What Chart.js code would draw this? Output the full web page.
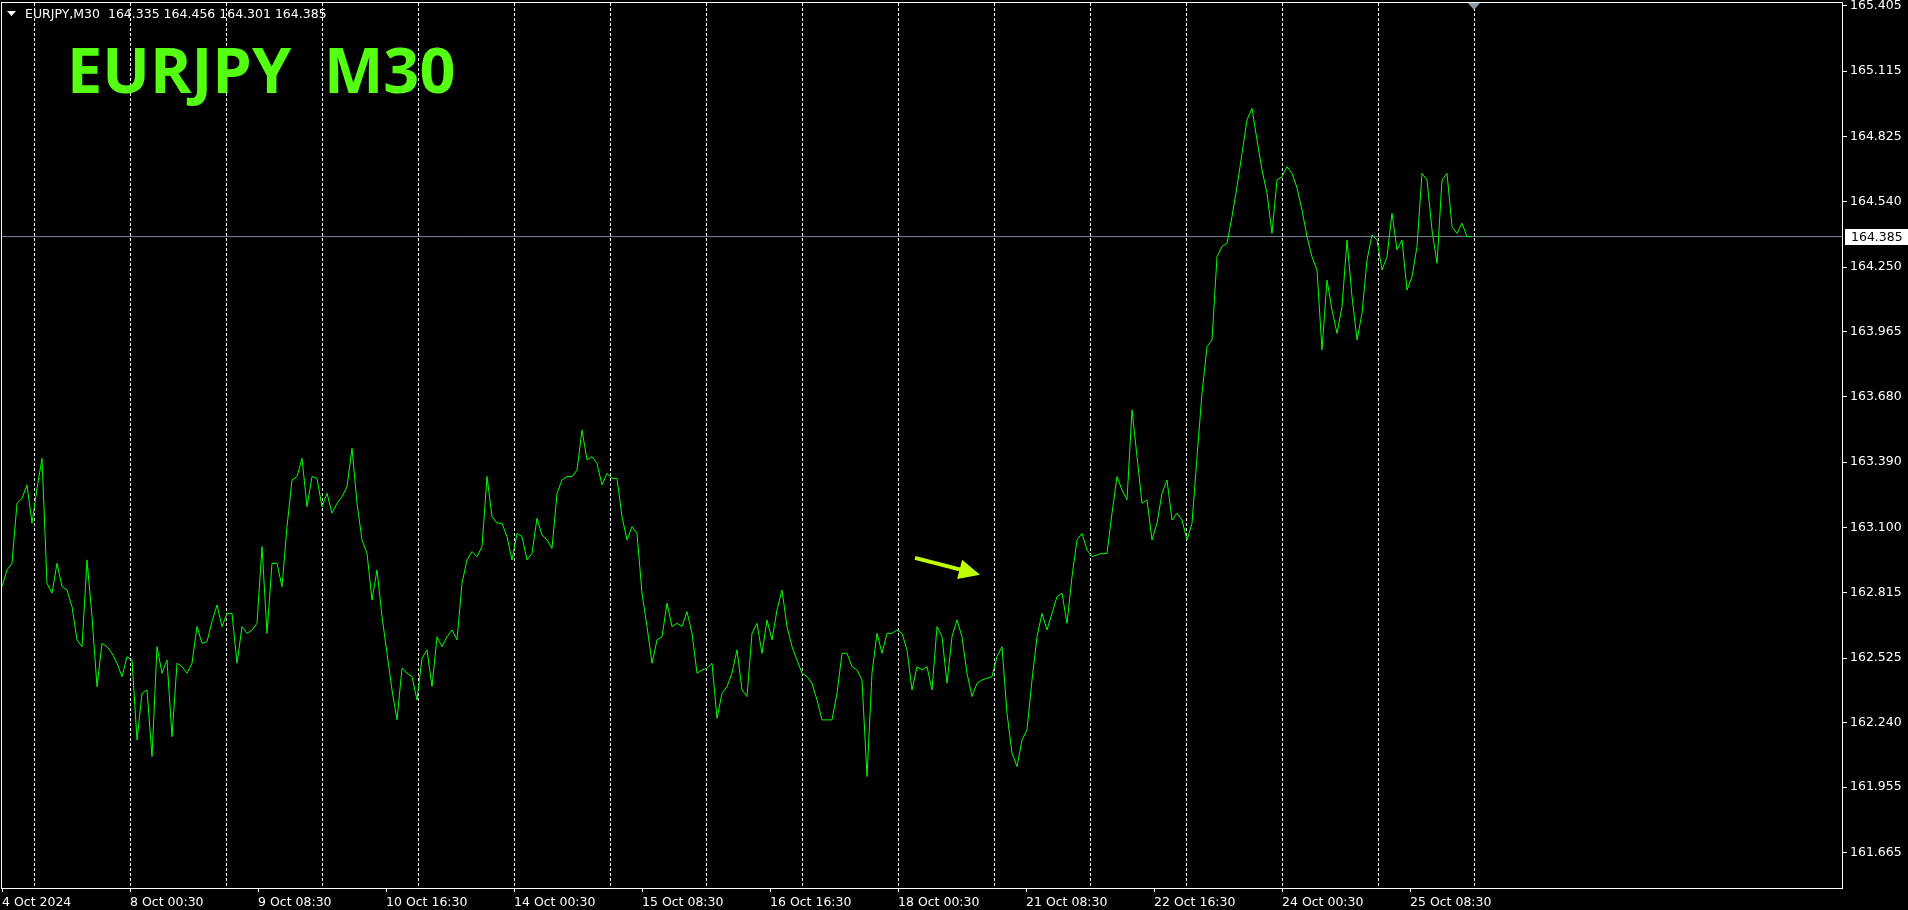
<!DOCTYPE html>
<html>
<head>
<meta charset="utf-8">
<title>EURJPY M30</title>
<script src="https://cdn.jsdelivr.net/npm/chart.js@4.4.1/dist/chart.umd.min.js"></script>
<style>
    html, body { margin: 0; padding: 0; background: #000; overflow: hidden; }
    #wrap { width: 1908px; height: 910px; }
</style>
</head>
<body>
<div id="wrap"><canvas id="priceChart" width="1908" height="910"></canvas></div>
<script>
// header / title
const symbolName = 'EURJPY,M30';
const ohlc = [164.335, 164.456, 164.301, 164.385];
const titleText = 'EURJPY  M30';
const bidPrice = 164.385;

// closes, one every 2.5 bars (M30)
const barsPerSample = 2.5;
const closes = [
    162.840, 162.914, 162.943, 163.208, 163.230, 163.289, 163.120, 163.274, 163.406, 162.855,
    162.811, 162.943, 162.840, 162.825, 162.752, 162.605, 162.575, 162.958, 162.708, 162.399,
    162.590, 162.575, 162.546, 162.502, 162.443, 162.531, 162.516, 162.163, 162.369, 162.384,
    162.090, 162.575, 162.458, 162.516, 162.178, 162.502, 162.487, 162.458, 162.502, 162.664,
    162.590, 162.597, 162.686, 162.759, 162.664, 162.722, 162.722, 162.502, 162.664, 162.634,
    162.649, 162.678, 163.017, 162.634, 162.943, 162.943, 162.840, 163.105, 163.311, 163.326,
    163.406, 163.193, 163.326, 163.318, 163.193, 163.252, 163.164, 163.208, 163.237, 163.281,
    163.451, 163.208, 163.046, 162.987, 162.781, 162.914, 162.708, 162.546, 162.384, 162.252,
    162.480, 162.458, 162.443, 162.340, 162.524, 162.561, 162.399, 162.619, 162.575, 162.619,
    162.649, 162.605, 162.855, 162.958, 162.995, 162.972, 163.017, 163.326, 163.149, 163.120,
    163.120, 163.061, 162.958, 163.075, 163.061, 162.958, 162.987, 163.142, 163.068, 163.046,
    163.009, 163.252, 163.311, 163.326, 163.326, 163.355, 163.531, 163.399, 163.414, 163.384,
    163.289, 163.340, 163.318, 163.318, 163.149, 163.046, 163.105, 163.075, 162.811, 162.664,
    162.502, 162.605, 162.619, 162.767, 162.664, 162.678, 162.664, 162.730, 162.634, 162.458,
    162.472, 162.480, 162.502, 162.259, 162.369, 162.399, 162.458, 162.561, 162.384, 162.355,
    162.634, 162.678, 162.546, 162.693, 162.605, 162.737, 162.825, 162.664, 162.575, 162.516,
    162.458, 162.443, 162.413, 162.340, 162.252, 162.252, 162.252, 162.369, 162.546, 162.546,
    162.487, 162.472, 162.428, 162.002, 162.458, 162.634, 162.546, 162.634, 162.634, 162.649,
    162.634, 162.561, 162.384, 162.487, 162.472, 162.487, 162.384, 162.664, 162.619, 162.414,
    162.619, 162.693, 162.619, 162.458, 162.355, 162.414, 162.428, 162.436, 162.443, 162.531,
    162.575, 162.281, 162.105, 162.046, 162.163, 162.208, 162.428, 162.619, 162.722, 162.649,
    162.722, 162.796, 162.811, 162.678, 162.884, 163.046, 163.075, 163.002, 162.973, 162.980,
    162.987, 162.987, 163.164, 163.326, 163.267, 163.223, 163.620, 163.414, 163.208, 163.223,
    163.046, 163.120, 163.252, 163.311, 163.134, 163.164, 163.134, 163.046, 163.120, 163.414,
    163.693, 163.899, 163.929, 164.296, 164.341, 164.355, 164.473, 164.605, 164.752, 164.900,
    164.951, 164.811, 164.679, 164.576, 164.399, 164.635, 164.649, 164.694, 164.664, 164.600,
    164.502, 164.385, 164.296, 164.238, 163.885, 164.193, 164.061, 163.958, 164.076, 164.370,
    164.120, 163.929, 164.046, 164.282, 164.392, 164.370, 164.238, 164.296, 164.488, 164.326,
    164.370, 164.149, 164.208, 164.341, 164.664, 164.635, 164.414, 164.267, 164.635, 164.664,
    164.429, 164.399, 164.444, 164.385, 164.385
];

// price scale
const priceMin = 161.510;
const priceMax = 165.416;
const yTicks = [165.405, 165.115, 164.825, 164.540, 164.250, 163.965, 163.680,
                163.390, 163.100, 162.815, 162.525, 162.240, 161.955, 161.665];

// time scale, in bars from the first bar
const barMax = 920.5;
const xLabelBars = [0, 64, 128, 192, 256, 320, 384, 448, 512, 576, 640, 704];
const xLabels = ['4 Oct 2024', '8 Oct 00:30', '9 Oct 08:30', '10 Oct 16:30', '14 Oct 00:30', '15 Oct 08:30',
                 '16 Oct 16:30', '18 Oct 00:30', '21 Oct 08:30', '22 Oct 16:30', '24 Oct 00:30', '25 Oct 08:30'];
const gridBars = [16, 64, 112, 160, 208, 256, 304, 352, 400, 448, 496, 544, 592, 640, 688, 736];
const shiftBar = 736;

// arrow annotation: [bar, price]
const arrowFrom = [456.5, 162.967];
const arrowTo = [489, 162.893];

const FONT = 'DejaVu Sans';

function noPad(s) {
    s.paddingTop = 0; s.paddingBottom = 0; s.paddingLeft = 0; s.paddingRight = 0;
}

document.addEventListener("DOMContentLoaded", function () {

    const decor = {
        id: 'decor',
        afterDatasetsDraw(chart) {
            const ctx = chart.ctx;
            const a = chart.chartArea;
            const xs = chart.scales.x;
            const ys = chart.scales.y;
            ctx.save();

            // plot frame
            ctx.strokeStyle = '#ffffff';
            ctx.lineWidth = 1;
            ctx.strokeRect(a.left - 0.5, a.top - 0.5, a.right - a.left, a.bottom - a.top + 1);

            // header line
            ctx.fillStyle = '#ffffff';
            ctx.beginPath();
            ctx.moveTo(7, 11); ctx.lineTo(16, 11); ctx.lineTo(11.5, 16);
            ctx.closePath();
            ctx.fill();
            ctx.font = '12.5px "' + FONT + '"';
            ctx.textBaseline = 'alphabetic';
            ctx.textAlign = 'left';
            ctx.fillText(symbolName + '  ' + ohlc.map(v => v.toFixed(3)).join(' '), 25, 18);

            // big title
            ctx.font = 'bold 63px "Open Sans"';
            ctx.fillStyle = '#55ff11';
            ctx.fillText(titleText, 67, 93);

            // arrow
            const x0 = xs.getPixelForValue(arrowFrom[0]), y0 = ys.getPixelForValue(arrowFrom[1]);
            const x1 = xs.getPixelForValue(arrowTo[0]), y1 = ys.getPixelForValue(arrowTo[1]);
            const ang = Math.atan2(y1 - y0, x1 - x0);
            const headLen = 21, headHalf = 10;
            const bx = x1 - headLen * Math.cos(ang), by = y1 - headLen * Math.sin(ang);
            ctx.strokeStyle = '#bfff00';
            ctx.fillStyle = '#bfff00';
            ctx.lineWidth = 4;
            ctx.beginPath();
            ctx.moveTo(x0, y0); ctx.lineTo(bx + 2 * Math.cos(ang), by + 2 * Math.sin(ang));
            ctx.stroke();
            ctx.beginPath();
            ctx.moveTo(x1, y1);
            ctx.lineTo(bx + headHalf * Math.sin(ang), by - headHalf * Math.cos(ang));
            ctx.lineTo(bx - headHalf * Math.sin(ang), by + headHalf * Math.cos(ang));
            ctx.closePath();
            ctx.fill();

            // chart shift marker
            const sx = xs.getPixelForValue(shiftBar);
            ctx.fillStyle = '#8899aa';
            ctx.beginPath();
            ctx.moveTo(sx - 6, a.top); ctx.lineTo(sx + 6, a.top); ctx.lineTo(sx, a.top + 7);
            ctx.closePath();
            ctx.fill();

            // bid price box
            const py = Math.round(ys.getPixelForValue(bidPrice));
            ctx.fillStyle = '#ffffff';
            ctx.fillRect(a.right + 2, py - 8, chart.width - a.right - 2, 16);
            ctx.fillStyle = '#000000';
            ctx.font = '12.5px "' + FONT + '"';
            ctx.textBaseline = 'middle';
            ctx.fillText(bidPrice.toFixed(3), a.right + 8, py + 1);

            ctx.restore();
        }
    };

    const ctx = document.getElementById('priceChart').getContext('2d');
    new Chart(ctx, {
        type: 'line',
        data: {
            datasets: [{
                label: 'EURJPY',
                data: closes.map((c, i) => ({ x: i * barsPerSample, y: c })),
                borderColor: '#00ff00',
                borderWidth: 1,
                pointRadius: 0,
                tension: 0,
                order: 1
            }, {
                label: 'Bid',
                data: [{ x: 0, y: bidPrice }, { x: barMax, y: bidPrice }],
                borderColor: '#778899',
                borderWidth: 1,
                pointRadius: 0,
                order: 2
            }]
        },
        options: {
            responsive: false,
            animation: false,
            events: [],
            layout: { padding: { left: 2, top: 3, right: 0, bottom: 0 } },
            plugins: { legend: { display: false }, tooltip: { enabled: false } },
            scales: {
                xg: {
                    type: 'linear', position: 'bottom', min: 0, max: barMax,
                    afterBuildTicks: s => { s.ticks = gridBars.map(v => ({ value: v })); },
                    afterFit: s => { s.height = 0; noPad(s); },
                    ticks: { display: false },
                    grid: { color: '#ffffff', lineWidth: 1, drawTicks: false },
                    border: { display: false, dash: [3, 2] }
                },
                x: {
                    type: 'linear', position: 'bottom', min: 0, max: barMax,
                    afterBuildTicks: s => { s.ticks = xLabelBars.map(v => ({ value: v })); },
                    afterFit: s => { s.height = 22; noPad(s); },
                    ticks: {
                        autoSkip: false, maxRotation: 0, align: 'start', padding: 3,
                        color: '#ffffff', font: { family: FONT, size: 12.5 },
                        callback: (v, i) => xLabels[i]
                    },
                    grid: { drawOnChartArea: false, drawTicks: true, tickLength: 4, color: '#ffffff' },
                    border: { display: false }
                },
                y: {
                    type: 'linear', position: 'right', min: priceMin, max: priceMax,
                    afterBuildTicks: s => { s.ticks = yTicks.map(v => ({ value: v })); },
                    afterFit: s => { s.width = 65; noPad(s); },
                    ticks: {
                        autoSkip: false, padding: 3,
                        color: '#ffffff', font: { family: FONT, size: 12.5 },
                        callback: v => v.toFixed(3)
                    },
                    grid: { drawOnChartArea: false, drawTicks: true, tickLength: 4, color: '#ffffff' },
                    border: { display: false }
                }
            }
        },
        plugins: [decor]
    });
});
</script>
</body>
</html>
